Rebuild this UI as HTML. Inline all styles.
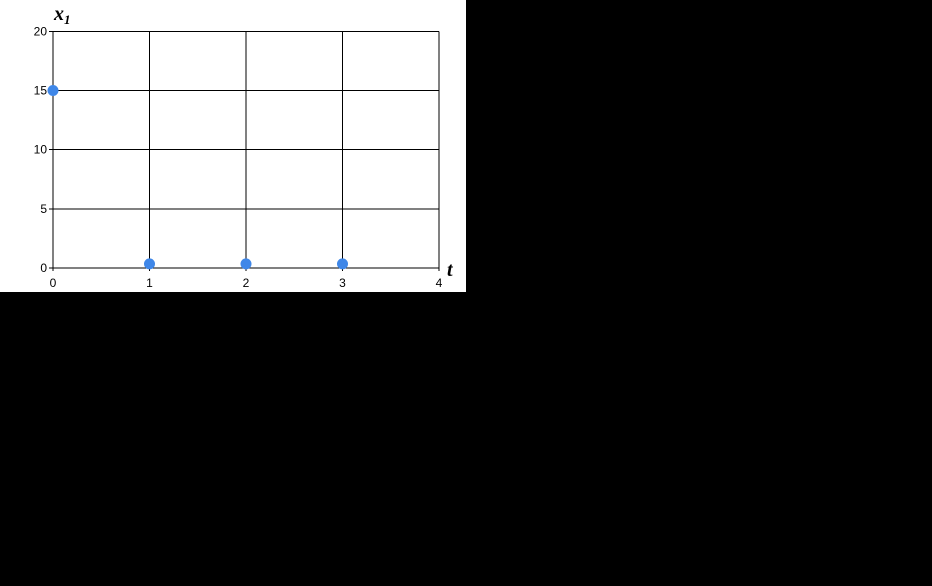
<!DOCTYPE html>
<html><head><meta charset="utf-8"><style>
html,body{margin:0;padding:0;background:#000;width:932px;height:586px;overflow:hidden}
svg{display:block}
text{font-family:"Liberation Sans",sans-serif;font-size:12px;fill:#000}
</style></head><body>
<svg width="932" height="586">
<rect x="0" y="0" width="466" height="292" fill="#fff"/>
<g id="g"></g>
</svg>
<script>
const xTicks=[0,1,2,3,4];
const yTicks=[0,5,10,15,20];
const tValues=[0,1,2,3];
const x1Values=[15,0.35,0.35,0.35];
const X0=53,X1=439,Y0=268,Y1=31.3;
const sx=v=>X0+(v-0)/(4-0)*(X1-X0);
const sy=v=>Y0-(v-0)/(20-0)*(Y0-Y1);
const NS='http://www.w3.org/2000/svg';
const g=document.getElementById('g');
function mk(t,a){const e=document.createElementNS(NS,t);for(const k in a)e.setAttribute(k,a[k]);g.appendChild(e);return e;}
yTicks.forEach(v=>{
 const l=mk('line',{x1:X0-4,x2:X1,y1:sy(v),y2:sy(v),stroke:'#000','stroke-width':1,'shape-rendering':'crispEdges'});
 
 
 const t=mk('text',{x:X0-6,y:sy(v)+4,'text-anchor':'end'});t.textContent=v;
 
 
});
xTicks.forEach(v=>{
 const l=mk('line',{x1:sx(v),x2:sx(v),y1:Y1,y2:Y0+3,stroke:'#000','stroke-width':1,'shape-rendering':'crispEdges'});
 
 
 const t=mk('text',{x:sx(v),y:Y0+19,'text-anchor':'middle'});t.textContent=v;
 
 
});
tValues.forEach((tv,i)=>{
 const c=mk('circle',{cx:sx(tv),cy:sy(x1Values[i]),r:5.5,fill:'#3f87e8'});
 
 
});
const yt=mk('text',{x:54,y:20,style:'font-family:Liberation Serif,serif;font-style:italic;font-weight:bold;font-size:20px'});
yt.innerHTML='x<tspan style="font-size:13px" dy="4">1</tspan>';


const xt=mk('text',{x:447,y:276,style:'font-family:Liberation Serif,serif;font-style:italic;font-weight:bold;font-size:20px'});
xt.textContent='t';


</script>
</body></html>
